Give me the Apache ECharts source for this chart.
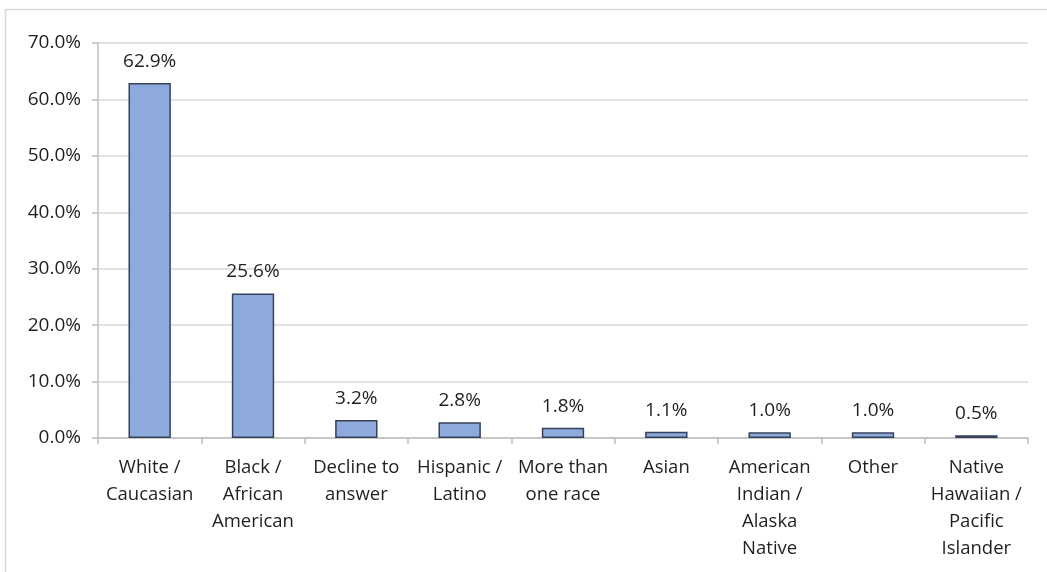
<!DOCTYPE html>
<html>
<head>
<meta charset="utf-8">
<script src="https://cdn.jsdelivr.net/npm/echarts@6/dist/echarts.min.js"></script>
<style>
  html, body { margin: 0; padding: 0; background: #fff; }
  #chart { width: 1047px; height: 572px; }
</style>
</head>
<body>
<div id="chart"></div>
<script>
// Race / ethnicity breakdown (percent of respondents)
const categories = [
  'White /\nCaucasian',
  'Black /\nAfrican\nAmerican',
  'Decline to\nanswer',
  'Hispanic /\nLatino',
  'More than\none race',
  'Asian',
  'American\nIndian /\nAlaska\nNative',
  'Other',
  'Native\nHawaiian /\nPacific\nIslander'
];
const percentValues = [62.9, 25.6, 3.2, 2.8, 1.8, 1.1, 1.0, 1.0, 0.5];
const yTicks = { min: 0, max: 70, interval: 10 };

const fontFamily = '"Open Sans", Lato, sans-serif';
const textColor = '#1f1f1f';
const chart = echarts.init(document.getElementById('chart'));

chart.setOption({
  animation: false,
  backgroundColor: '#ffffff',
  grid: { left: 98, right: 19, top: 43, bottom: 134, containLabel: false },
  graphic: [
    { type: 'line', shape: { x1: 5, y1: 9.5, x2: 1047, y2: 9.5 }, style: { stroke: '#d9d9d9', lineWidth: 1.5 } },
    { type: 'line', shape: { x1: 5.5, y1: 9, x2: 5.5, y2: 572 }, style: { stroke: '#d9d9d9', lineWidth: 1.5 } }
  ],
  xAxis: {
    type: 'category',
    data: categories,
    axisLine: { show: true, lineStyle: { color: '#bfbfbf', width: 1.5 } },
    axisTick: { show: true, alignWithLabel: false, length: 6, lineStyle: { color: '#bfbfbf', width: 1.5 } },
    axisLabel: {
      interval: 0,
      color: textColor,
      fontFamily: fontFamily,
      fontSize: 18.5,
      lineHeight: 27,
      margin: 16,
      align: 'center'
    }
  },
  yAxis: {
    type: 'value',
    min: yTicks.min,
    max: yTicks.max,
    interval: yTicks.interval,
    axisLine: { show: true, lineStyle: { color: '#bfbfbf', width: 1.5 } },
    axisTick: { show: true, length: 6, lineStyle: { color: '#bfbfbf', width: 1.5 } },
    splitLine: { show: true, lineStyle: { color: '#d9d9d9', width: 1.5 } },
    axisLabel: {
      color: textColor,
      fontFamily: fontFamily,
      fontSize: 19,
      margin: 17,
      formatter: v => v.toFixed(1) + '%'
    }
  },
  series: [{
    type: 'bar',
    data: percentValues,
    barWidth: '41%',
    itemStyle: {
      color: '#8eaadc',
      borderColor: '#36415a',
      borderWidth: 1.5
    },
    label: {
      show: true,
      position: 'top',
      distance: 12,
      color: textColor,
      fontFamily: fontFamily,
      fontSize: 19,
      formatter: p => p.value.toFixed(1) + '%'
    }
  }]
});
</script>
</body>
</html>
